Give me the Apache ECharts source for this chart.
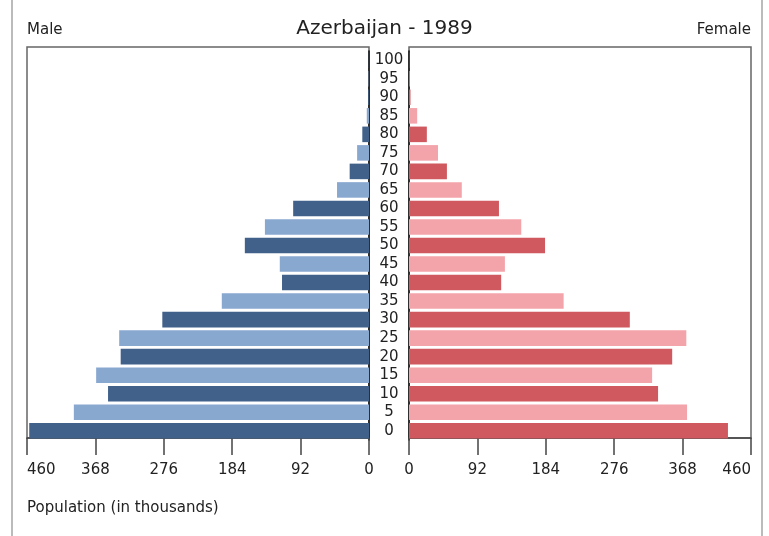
<!DOCTYPE html>
<html>
<head>
<meta charset="utf-8">
<script src="https://cdn.jsdelivr.net/npm/echarts@6/dist/echarts.min.js"></script>
<style>
  html, body { margin: 0; padding: 0; background: #fff; }
  #main { width: 769px; height: 536px; }
</style>
</head>
<body>
<div id="main"></div>
<script>
var ages = ['0','5','10','15','20','25','30','35','40','45','50','55','60','65','70','75','80','85','90','95','100'];
var male = [457, 397, 351, 367, 334, 336, 278, 198, 117, 120, 167, 140, 102, 43, 26, 16, 9, 3, 1, 0.5, 0.2];
var female = [429, 374, 335, 327, 354, 373, 297, 208, 124, 129, 183, 151, 121, 71, 51, 39, 24, 11, 2, 0.8, 0.3];
var xTicks = [0, 92, 184, 276, 368, 460];

var myChart = echarts.init(document.getElementById('main'));
var font = 'DejaVu Sans';

function barColor(dark, light) {
	return function (p) { return p.dataIndex % 2 ? light : dark; };
}

var option = {
	backgroundColor: '#fff',
	textStyle: { fontFamily: font },
	title: [
		{ text: 'Azerbaijan - 1989', left: 'center', top: 19, padding: 0, textStyle: { fontSize: 20, fontWeight: 'normal', color: '#222', fontFamily: font } },
		{ text: 'Male', left: 27, top: 23, padding: 0, textStyle: { fontSize: 15, fontWeight: 'normal', color: '#222', fontFamily: font } },
		{ text: 'Female', right: 18, top: 23, padding: 0, textStyle: { fontSize: 15, fontWeight: 'normal', color: '#222', fontFamily: font } },
		{ text: 'Population (in thousands)', left: 27, top: 501, padding: 0, textStyle: { fontSize: 15, fontWeight: 'normal', color: '#222', fontFamily: font } }
	],
	graphic: [
		{ type: 'rect', shape: { x: 12, y: -3, width: 750, height: 550 }, style: { fill: 'none', stroke: '#bbb', lineWidth: 2 }, silent: true },
		{ type: 'rect', shape: { x: 27, y: 47, width: 342, height: 391 }, style: { fill: 'none', stroke: '#666', lineWidth: 1.5 }, silent: true, z: -1 },
		{ type: 'rect', shape: { x: 409, y: 47, width: 342, height: 391 }, style: { fill: 'none', stroke: '#666', lineWidth: 1.5 }, silent: true, z: -1 }
	],
	grid: [
		{ left: 27, width: 342, top: 51, height: 389 },
		{ left: 409, width: 342, top: 51, height: 389 }
	],
	xAxis: [
		{
			gridIndex: 0, type: 'value', inverse: true, min: 0, max: 460, interval: 92, offset: -2,
			axisLine: { show: true, lineStyle: { color: '#444', width: 1.5 } },
			axisTick: { show: true, length: 17, lineStyle: { color: '#444', width: 1.5 } },
			axisLabel: { fontSize: 15, color: '#222', margin: 25, alignMaxLabel: 'left',
				customValues: xTicks },
			splitLine: { show: false }
		},
		{
			gridIndex: 1, type: 'value', min: 0, max: 460, interval: 92, offset: -2,
			axisLine: { show: true, lineStyle: { color: '#444', width: 1.5 } },
			axisTick: { show: true, length: 17, lineStyle: { color: '#444', width: 1.5 } },
			axisLabel: { fontSize: 15, color: '#222', margin: 25, alignMaxLabel: 'right',
				customValues: xTicks },
			splitLine: { show: false }
		}
	],
	yAxis: [
		{
			gridIndex: 0, type: 'category', data: ages, position: 'right',
			axisLine: { show: true, onZero: false, lineStyle: { color: '#111', width: 1.5 } },
			axisTick: { show: false },
			axisLabel: { fontSize: 15, color: '#222', margin: 20, align: 'center', interval: 0 }
		},
		{
			gridIndex: 1, type: 'category', data: ages, position: 'left',
			axisLine: { show: true, onZero: false, lineStyle: { color: '#111', width: 1.5 } },
			axisTick: { show: false },
			axisLabel: { show: false }
		}
	],
	series: [
		{
			name: 'Male', type: 'bar', xAxisIndex: 0, yAxisIndex: 0, data: male,
			barCategoryGap: '16%',
			itemStyle: { color: barColor('#41618b', '#89a8d0') }
		},
		{
			name: 'Female', type: 'bar', xAxisIndex: 1, yAxisIndex: 1, data: female,
			barCategoryGap: '16%',
			itemStyle: { color: barColor('#d0595f', '#f3a3aa') }
		}
	]
};
myChart.setOption(option);
</script>
</body>
</html>
